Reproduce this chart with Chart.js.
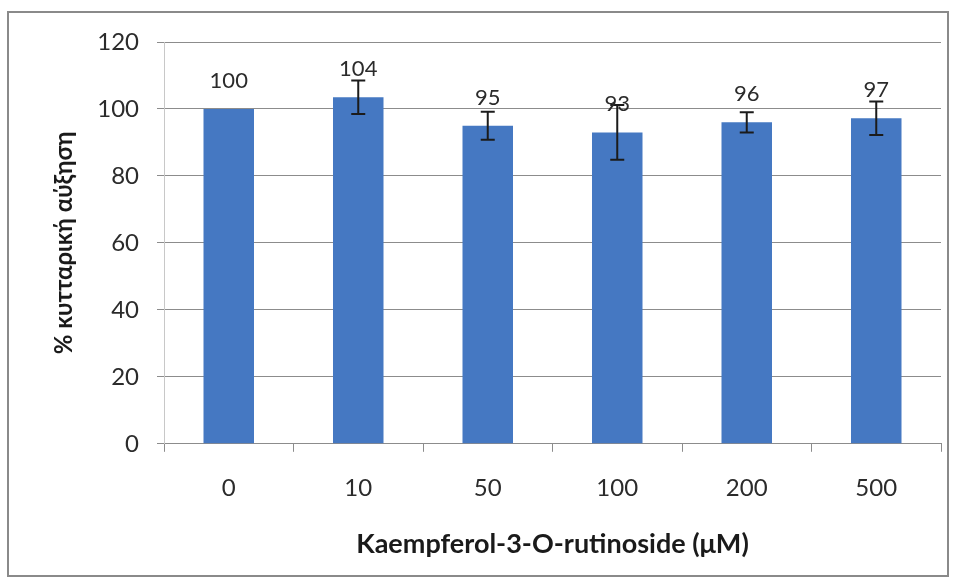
<!DOCTYPE html>
<html lang="el">
<head>
  <meta charset="UTF-8">
  <title>Kaempferol-3-O-rutinoside</title>
  <script src="https://cdn.jsdelivr.net/npm/chart.js"></script>
  <style>
    html, body {
      margin: 0;
      padding: 0;
      background: #ffffff;
    }

    .frame {
      position: absolute;
      left: 7px;
      top: 11px;
      width: 938px;
      height: 562px;
      border: 2px solid #8a8a8a;
      background: #ffffff;
    }

    canvas {
      display: block;
    }
  </style>
</head>
<body>

  <div class="frame">
    <canvas id="growthChart" width="938" height="562"></canvas>
  </div>

  <script>
    // data
    const concentrations = ["0", "10", "50", "100", "200", "500"];
    const growth = [100, 103.5, 95, 93, 96, 97.2];
    const errors = [0, 5, 4.2, 8.2, 3, 5];
    const yTicks = [0, 20, 40, 60, 80, 100, 120];

    const fontFamily = "Lato, 'Open Sans', sans-serif";

    // error bars drawn with the chart scales
    const errorBars = {
      id: "errorBars",
      afterDatasetsDraw(chart) {
        const ctx = chart.ctx;
        const y = chart.scales.y;
        const meta = chart.getDatasetMeta(0);
        ctx.save();
        ctx.strokeStyle = "#1b1b1b";
        ctx.lineWidth = 2;
        meta.data.forEach((bar, i) => {
          const err = errors[i];
          if (!err) return;
          const top = y.getPixelForValue(growth[i] + err);
          const bottom = y.getPixelForValue(growth[i] - err);
          ctx.beginPath();
          ctx.moveTo(bar.x, top);
          ctx.lineTo(bar.x, bottom);
          ctx.moveTo(bar.x - 7, top);
          ctx.lineTo(bar.x + 7, top);
          ctx.moveTo(bar.x - 7, bottom);
          ctx.lineTo(bar.x + 7, bottom);
          ctx.stroke();
        });
        ctx.restore();
      }
    };

    // value labels above bars
    const valueLabels = {
      id: "valueLabels",
      afterDraw(chart) {
        const ctx = chart.ctx;
        const meta = chart.getDatasetMeta(0);
        ctx.save();
        ctx.fillStyle = "#2b2b2b";
        ctx.font = "22px " + fontFamily;
        ctx.textAlign = "center";
        ctx.textBaseline = "middle";
        meta.data.forEach((bar, i) => {
          ctx.fillText(String(Math.round(growth[i])), bar.x, bar.y - 28);
        });
        ctx.restore();
      }
    };

    const ctx = document.getElementById("growthChart").getContext("2d");
    new Chart(ctx, {
      type: "bar",
      data: {
        labels: concentrations,
        datasets: [{
          data: growth,
          backgroundColor: "#4578c2",
          borderWidth: 0,
          categoryPercentage: 1,
          barPercentage: 0.39
        }]
      },
      options: {
        responsive: false,
        animation: false,
        layout: {
          padding: { top: 29, right: 6, bottom: 14, left: 0 }
        },
        plugins: {
          legend: { display: false },
          tooltip: { enabled: false }
        },
        scales: {
          x: {
            grid: {
              offset: true,
              drawOnChartArea: false,
              color: "#8c8c8c",
              tickLength: 8
            },
            border: { color: "#8c8c8c", width: 1 },
            ticks: {
              color: "#2b2b2b",
              font: { family: fontFamily, size: 24 },
              padding: 22,
              maxRotation: 0
            },
            title: {
              display: true,
              text: "Kaempferol-3-O-rutinoside (μM)",
              color: "#1a1a1a",
              font: { family: fontFamily, size: 27, weight: "bold" },
              padding: { top: 3, bottom: 1 }
            }
          },
          y: {
            min: 0,
            max: 120,
            afterBuildTicks(scale) {
              scale.ticks = yTicks.map(v => ({ value: v }));
            },
            afterFit(scale) {
              scale.width = 155;
              scale.paddingTop = 0;
              scale.paddingBottom = 0;
            },
            grid: {
              color: "#8c8c8c",
              tickLength: 7
            },
            border: { color: "#c8c8c8", width: 1 },
            ticks: {
              color: "#2b2b2b",
              font: { family: fontFamily, size: 24 },
              padding: 18
            },
            title: {
              display: true,
              text: "% κυτταρική αύξηση",
              color: "#1a1a1a",
              font: { family: fontFamily, size: 24, weight: "bold" },
              padding: { top: 41, bottom: 0 }
            }
          }
        }
      },
      plugins: [errorBars, valueLabels]
    });
  </script>
</body>
</html>
